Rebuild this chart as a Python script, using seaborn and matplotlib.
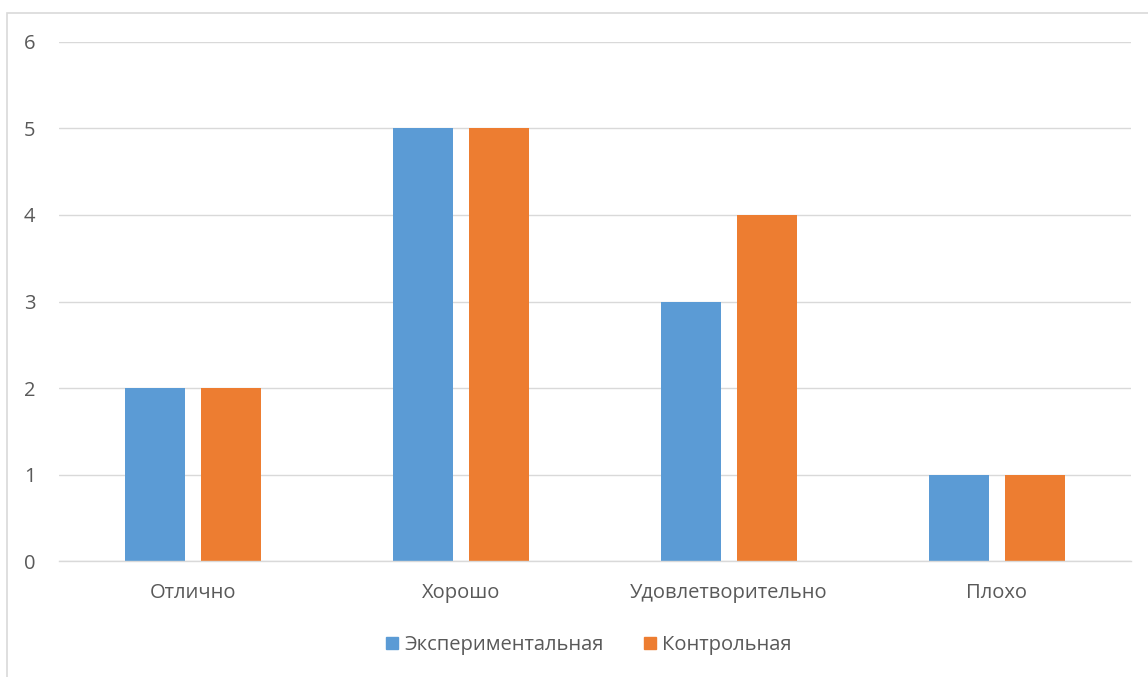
import matplotlib
matplotlib.use("Agg")
import matplotlib.pyplot as plt
import matplotlib.patches as mpatches
import seaborn as sns
import pandas as pd

# data
categories = ["Отлично", "Хорошо", "Удовлетворительно", "Плохо"]
experimental = [2, 5, 3, 1]
control = [2, 5, 4, 1]
groups = ["Экспериментальная", "Контрольная"]

df = pd.DataFrame({
    "cat": categories * 2,
    "val": experimental + control,
    "group": [groups[0]] * 4 + [groups[1]] * 4,
})

sns.set_theme(style="white")
plt.rcParams["font.family"] = ["Open Sans", "DejaVu Sans"]

fig = plt.figure(figsize=(11.48, 6.77), dpi=100)
ax = fig.add_axes([0.0514, 0.1713, 0.9337, 0.7667])

palette = {groups[0]: "#5B9BD5", groups[1]: "#ED7D31"}
sns.barplot(data=df, x="cat", y="val", hue="group", palette=palette,
            width=0.567, gap=0.21, saturation=1, linewidth=0,
            ax=ax, legend=False)

ax.set_ylim(0, 6)
ax.set_xlim(-0.5, 3.5)
ax.set_yticks(range(7))
ax.grid(axis="y", color="#D9D9D9", linewidth=1)
ax.set_axisbelow(True)
for s in ["top", "right", "left"]:
    ax.spines[s].set_visible(False)
ax.spines["bottom"].set_color("#D9D9D9")
ax.spines["bottom"].set_linewidth(1)
ax.tick_params(axis="both", length=0, labelsize=14.5, colors="#595959")
ax.tick_params(axis="y", pad=17)
ax.tick_params(axis="x", pad=16)
ax.set_xlabel("")
ax.set_ylabel("")

# legend at the bottom
handles = [mpatches.Patch(color=palette[g], label=g) for g in groups]
fig.legend(handles=handles, loc="center", bbox_to_anchor=(0.513, 0.047),
           ncol=2, frameon=False, fontsize=14.5, labelcolor="#595959",
           handlelength=0.6, handleheight=0.6, handletextpad=0.3,
           columnspacing=2.0)

# chart border (Excel-style)
fig.patches.append(mpatches.Rectangle((7 / 1148, -0.1), 1.2, 0.1 + (677 - 13) / 677,
                                      transform=fig.transFigure, fill=False,
                                      edgecolor="#D9D9D9", linewidth=1.2))

fig.savefig("out.png", dpi=100)
